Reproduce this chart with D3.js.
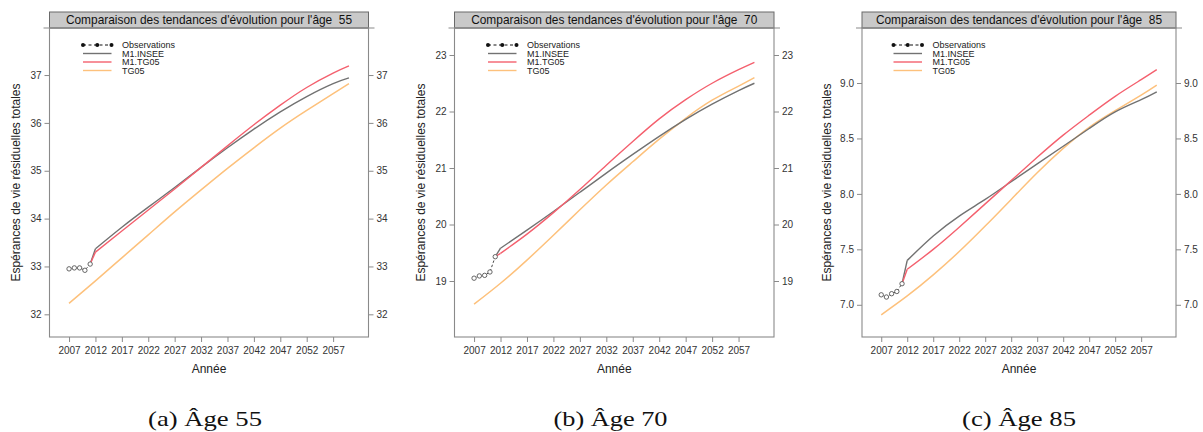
<!DOCTYPE html>
<html>
<head>
<meta charset="utf-8">
<script src="https://cdn.jsdelivr.net/npm/d3@7"></script>
<style>
  html, body { margin: 0; padding: 0; background: #fff; }
  svg text { font-family: "Liberation Sans", Arial, sans-serif; }
</style>
</head>
<body>
<svg id="fig" width="1203" height="432"></svg>
<script>
// Years of observed values and of projected values
const obsYears = [2007, 2008, 2009, 2010, 2011];
const projYears = [2011, 2012, 2017, 2022, 2027, 2032, 2037, 2042, 2047, 2052, 2057, 2060];
const tg05Years = [2007, 2012, 2017, 2022, 2027, 2032, 2037, 2042, 2047, 2052, 2057, 2060];
const xTicks = [2007, 2012, 2017, 2022, 2027, 2032, 2037, 2042, 2047, 2052, 2057];

// Age 55
const obs55   = [32.95, 32.97, 32.97, 32.92, 33.05];
const insee55 = [33.05, 33.37, 33.82, 34.24, 34.65, 35.07, 35.48, 35.87, 36.23, 36.55, 36.82, 36.94];
const m1tg55  = [33.05, 33.30, 33.74, 34.18, 34.62, 35.07, 35.52, 35.96, 36.37, 36.74, 37.04, 37.19];
const tg55    = [32.23, 32.70, 33.18, 33.66, 34.14, 34.60, 35.05, 35.48, 35.89, 36.26, 36.61, 36.82];
const yTicks55 = [32, 33, 34, 35, 36, 37];

// Age 70
const obs70   = [19.05, 19.09, 19.10, 19.16, 19.43];
const insee70 = [19.43, 19.58, 19.90, 20.23, 20.57, 20.91, 21.24, 21.56, 21.86, 22.13, 22.37, 22.50];
const m1tg70  = [19.43, 19.49, 19.83, 20.21, 20.62, 21.05, 21.47, 21.87, 22.21, 22.50, 22.74, 22.87];
const tg70    = [18.59, 18.96, 19.37, 19.81, 20.26, 20.70, 21.11, 21.51, 21.88, 22.20, 22.45, 22.60];
const yTicks70 = [19, 20, 21, 22, 23];

// Age 85
const obs85   = [7.09, 7.07, 7.10, 7.12, 7.19];
const insee85 = [7.19, 7.40, 7.62, 7.80, 7.95, 8.11, 8.27, 8.43, 8.59, 8.74, 8.85, 8.92];
const m1tg85  = [7.19, 7.32, 7.50, 7.70, 7.91, 8.12, 8.33, 8.53, 8.71, 8.88, 9.03, 9.12];
const tg85    = [6.91, 7.08, 7.27, 7.48, 7.71, 7.95, 8.19, 8.41, 8.60, 8.75, 8.89, 8.98];
const yTicks85 = [7.0, 7.5, 8.0, 8.5, 9.0];

const seriesNames = ["Observations", "M1.INSEE", "M1.TG05", "TG05"];
const captions = ["(a) Âge 55", "(b) Âge 70", "(c) Âge 85"];
const ages = [55, 70, 85];

const COL = { obs: "#333", insee: "#727272", m1: "#f4606e", tg: "#fdc17c" };

const panels = [
  { obs: obs55, insee: insee55, m1: m1tg55, tg: tg55, ticks: yTicks55, fmt: d3.format("d"),
    left: 49.5, right: 368.5, yDom: [31.526, 37.983], capX: 205 },
  { obs: obs70, insee: insee70, m1: m1tg70, tg: tg70, ticks: yTicks70, fmt: d3.format("d"),
    left: 454.5, right: 774, yDom: [18.009, 23.478], capX: 610.5 },
  { obs: obs85, insee: insee85, m1: m1tg85, tg: tg85, ticks: yTicks85, fmt: d3.format(".1f"),
    left: 862, right: 1176, yDom: [6.7095, 9.496], capX: 1019 }
];

const svg = d3.select("#fig");
const plotTop = 28, plotBottom = 337, stripTop = 12;
const frameCol = "#8a8a8a";

panels.forEach((p, i) => {
  const g = svg.append("g");
  const x = d3.scaleLinear().domain([2003.3, 2063.7]).range([p.left, p.right]);
  const y = d3.scaleLinear().domain(p.yDom).range([plotBottom, plotTop]);

  // strip with the panel title
  g.append("rect").attr("x", p.left).attr("y", stripTop)
    .attr("width", p.right - p.left).attr("height", plotTop - stripTop)
    .attr("fill", "#c9c9c9").attr("stroke", "#6a6a6a").attr("stroke-width", 1);
  g.append("text").attr("x", (p.left + p.right) / 2).attr("y", plotTop - 4)
    .attr("text-anchor", "middle").attr("font-size", 11.9).attr("fill", "#111")
    .attr("xml:space", "preserve")
    .text("Comparaison des tendances d'évolution pour l'âge  " + ages[i]);

  // panel frame
  g.append("rect").attr("x", p.left).attr("y", plotTop)
    .attr("width", p.right - p.left).attr("height", plotBottom - plotTop)
    .attr("fill", "none").attr("stroke", frameCol).attr("stroke-width", 1.1);
  g.append("line").attr("x1", p.left - 6).attr("x2", p.right + 6)
    .attr("y1", plotTop).attr("y2", plotTop).attr("stroke", frameCol).attr("stroke-width", 1.1);

  // axes
  const axStyle = sel => {
    sel.select(".domain").remove();
    sel.selectAll(".tick line").attr("stroke", frameCol).attr("stroke-width", 1);
    sel.selectAll(".tick text").attr("fill", "#333").attr("font-size", 10)
      .attr("font-family", "'Liberation Sans', Arial, sans-serif");
  };
  g.append("g").attr("transform", `translate(0,${plotBottom})`)
    .call(d3.axisBottom(x).tickValues(xTicks).tickFormat(d3.format("d")).tickSize(5).tickPadding(5))
    .call(axStyle);
  g.append("g").attr("transform", `translate(${p.left},0)`)
    .call(d3.axisLeft(y).tickValues(p.ticks).tickFormat(p.fmt).tickSize(5).tickPadding(3))
    .call(axStyle);
  g.append("g").attr("transform", `translate(${p.right},0)`)
    .call(d3.axisRight(y).tickValues(p.ticks).tickFormat(p.fmt).tickSize(5).tickPadding(3))
    .call(axStyle);

  // axis titles
  g.append("text").attr("x", (p.left + p.right) / 2).attr("y", 373)
    .attr("text-anchor", "middle").attr("font-size", 12).attr("fill", "#222").text("Année");
  const ylx = p.left - (i === 2 ? 35 : 33.5);
  g.append("text").attr("transform", `translate(${ylx + 4},${(plotTop + plotBottom) / 2}) rotate(-90)`)
    .attr("text-anchor", "middle").attr("font-size", 12).attr("fill", "#222")
    .text("Espérances de vie résiduelles totales");

  const clip = "clip" + i;
  svg.append("clipPath").attr("id", clip).append("rect")
    .attr("x", p.left).attr("y", plotTop).attr("width", p.right - p.left).attr("height", plotBottom - plotTop);
  const plot = g.append("g").attr("clip-path", `url(#${clip})`);

  const smooth = d3.line().x(d => x(d[0])).y(d => y(d[1])).curve(d3.curveNatural);
  const straight = d3.line().x(d => x(d[0])).y(d => y(d[1]));

  // TG05 table
  plot.append("path").datum(tg05Years.map((yr, k) => [yr, p.tg[k]]))
    .attr("d", smooth).attr("fill", "none").attr("stroke", COL.tg).attr("stroke-width", 1.5);

  // models: jump from last observation, then the projected trend
  [[p.insee, COL.insee], [p.m1, COL.m1]].forEach(([vals, col]) => {
    const pts = projYears.map((yr, k) => [yr, vals[k]]);
    plot.append("path").datum(pts.slice(0, 2)).attr("d", straight)
      .attr("fill", "none").attr("stroke", col).attr("stroke-width", 1.4);
    plot.append("path").datum(pts.slice(1)).attr("d", smooth)
      .attr("fill", "none").attr("stroke", col).attr("stroke-width", 1.4);
  });

  // observations
  const obsPts = obsYears.map((yr, k) => [yr, p.obs[k]]);
  plot.append("path").datum(obsPts).attr("d", straight)
    .attr("fill", "none").attr("stroke", COL.obs).attr("stroke-width", 0.9)
    .attr("stroke-dasharray", "2.5,2");
  plot.selectAll("circle.obs").data(obsPts).join("circle").attr("class", "obs")
    .attr("cx", d => x(d[0])).attr("cy", d => y(d[1])).attr("r", 2.2)
    .attr("fill", "#fff").attr("stroke", "#555").attr("stroke-width", 0.9);

  // legend
  const lx0 = p.left + (i === 2 ? 31.5 : 33.5), lx1 = lx0 + 28.5, tx = lx0 + 39;
  const rowY = [45, 53.5, 62, 70.5];
  const lg = g.append("g");
  lg.append("line").attr("x1", lx0).attr("x2", lx1).attr("y1", rowY[0]).attr("y2", rowY[0])
    .attr("stroke", "#111").attr("stroke-width", 1).attr("stroke-dasharray", "3,2.5");
  [lx0, (lx0 + lx1) / 2, lx1].forEach(cx => lg.append("circle")
    .attr("cx", cx).attr("cy", rowY[0]).attr("r", 2).attr("fill", "#111"));
  [COL.insee, COL.m1, COL.tg].forEach((col, k) => lg.append("line")
    .attr("x1", lx0).attr("x2", lx1).attr("y1", rowY[k + 1]).attr("y2", rowY[k + 1])
    .attr("stroke", col).attr("stroke-width", 1.4));
  seriesNames.forEach((nm, k) => lg.append("text").attr("x", tx).attr("y", rowY[k] + 3)
    .attr("font-size", 9).attr("fill", "#222").text(nm));

  // sub-figure caption
  svg.append("text").attr("x", p.capX).attr("y", 426).attr("text-anchor", "middle")
    .attr("font-size", 22).attr("fill", "#111")
    .attr("textLength", 114).attr("lengthAdjust", "spacingAndGlyphs")
    .style("font-family", "'Liberation Serif', 'Times New Roman', serif")
    .text(captions[i]);
});
</script>
</body>
</html>
